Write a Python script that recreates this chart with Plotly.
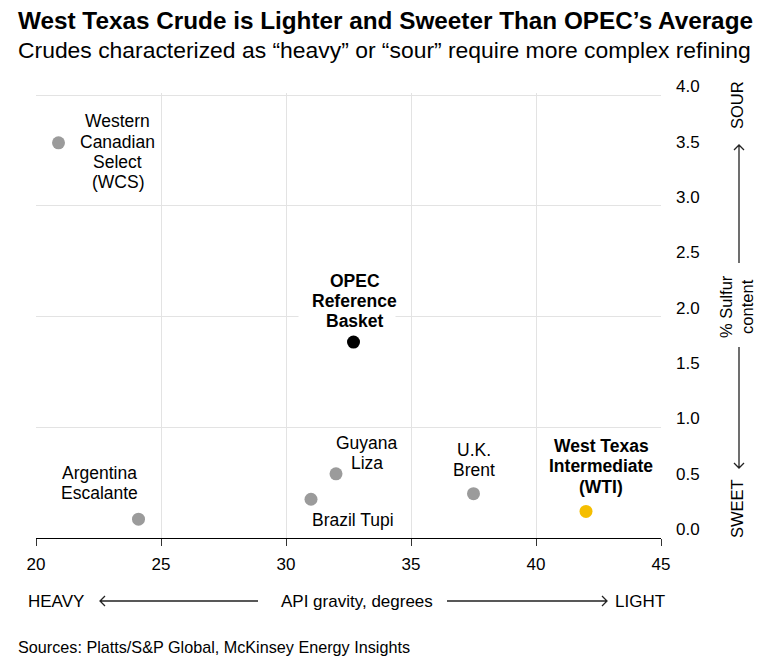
import plotly.graph_objects as go

# ---- data ----
names = ["Western<br>Canadian<br>Select<br>(WCS)", "OPEC<br>Reference<br>Basket", "Guyana<br>Liza",
         "Brazil Tupi", "U.K.<br>Brent", "West Texas<br>Intermediate<br>(WTI)", "Argentina<br>Escalante"]
api_gravity = [20.9, 32.7, 32.0, 31.0, 37.5, 42.0, 24.1]
sulfur_pct = [3.57, 1.77, 0.58, 0.35, 0.40, 0.24, 0.17]
colors = ["#9b9b9b", "#000000", "#9b9b9b", "#9b9b9b", "#9b9b9b", "#f5be00", "#9b9b9b"]
bold = [False, True, False, False, False, True, False]
label_shift = [(59, -9), (1, 41), (31, 21), (42, -21), (0, 34), (15, 45), (-39, 36)]
x_ticks = [20, 25, 30, 35, 40, 45]
x_grid = [20, 25, 30, 35, 40]
y_ticks = [0.0, 0.5, 1.0, 1.5, 2.0, 2.5, 3.0, 3.5, 4.0]
y_grid = [1, 2, 3, 4]

FONT = "Liberation Sans, Arial, sans-serif"
LINE = 20.3

# geometry: page has an 8px body margin, so figure is placed at (8,8)
OFF = 8
W, H = 758, 651
L, T = 28, 85
PW, PH = 625, 445
R, B = W - L - PW, H - T - PH


def px(xpage):
    return (xpage - OFF - L) / PW


def py(ypage):
    return (T + PH - (ypage - OFF)) / PH


fig = go.Figure()
fig.add_trace(go.Scatter(
    x=api_gravity, y=sulfur_pct, mode="markers",
    marker=dict(size=13, color=colors, line=dict(width=0)),
    hoverinfo="skip", showlegend=False,
))

annotations = []
shapes = []
for n, xv, yv, b, (dx, dy) in zip(names, api_gravity, sulfur_pct, bold, label_shift):
    lines = n.split("<br>")
    k = len(lines)
    if "OPEC" in n:
        shapes.append(dict(type="rect", xref="x", yref="y", xsizemode="pixel", ysizemode="pixel",
                           xanchor=xv, yanchor=yv, x0=-55, x1=42, y0=12, y1=70,
                           fillcolor="white", line=dict(width=0), layer="between"))
    for i, ln in enumerate(lines):
        annotations.append(dict(
            x=xv, y=yv, xref="x", yref="y", text=f"<b>{ln}</b>" if b else ln,
            showarrow=False, xshift=dx, yshift=dy + ((k - 1) / 2 - i) * LINE, align="center",
            font=dict(family=FONT, size=17.5, color="#000"),
        ))

# titles
annotations += [
    dict(x=px(16), y=py(20), xref="paper", yref="paper", xanchor="left", yanchor="middle",
         text="<b>West Texas Crude is Lighter and Sweeter Than OPEC’s Average</b>", showarrow=False,
         font=dict(family=FONT, size=24.3, color="#000")),
    dict(x=px(16), y=py(50), xref="paper", yref="paper", xanchor="left", yanchor="middle",
         text="Crudes characterized as “heavy” or “sour” require more complex refining", showarrow=False,
         font=dict(family=FONT, size=22.9, color="#000")),
    dict(x=px(16), y=py(647), xref="paper", yref="paper", xanchor="left", yanchor="middle",
         text="Sources: Platts/S&P Global, McKinsey Energy Insights", showarrow=False,
         font=dict(family=FONT, size=16.2, color="#000")),
    # x axis labels
    dict(x=px(26), y=py(601), xref="paper", yref="paper", xanchor="left", yanchor="middle",
         text="HEAVY", showarrow=False, font=dict(family=FONT, size=17, color="#000")),
    dict(x=px(357), y=py(601), xref="paper", yref="paper", xanchor="center", yanchor="middle",
         text="API gravity, degrees", showarrow=False, font=dict(family=FONT, size=17, color="#000")),
    dict(x=px(613), y=py(601), xref="paper", yref="paper", xanchor="left", yanchor="middle",
         text="LIGHT", showarrow=False, font=dict(family=FONT, size=17, color="#000")),
    # y axis labels
    dict(x=px(737), y=py(105), xref="paper", yref="paper", xanchor="center", yanchor="middle",
         text="SOUR", textangle=-90, showarrow=False, font=dict(family=FONT, size=16.5, color="#000")),
    dict(x=px(736), y=py(307), xref="paper", yref="paper", xanchor="center", yanchor="middle",
         text="% Sulfur<br>content", textangle=-90, showarrow=False,
         font=dict(family=FONT, size=16.5, color="#000")),
    dict(x=px(737), y=py(509), xref="paper", yref="paper", xanchor="center", yanchor="middle",
         text="SWEET", textangle=-90, showarrow=False, font=dict(family=FONT, size=16.5, color="#000")),
]


def arrow_path(x0, y0, x1, y1):
    # line from (x0,y0) to tip (x1,y1) with open chevron at tip, page pixel coords
    d = 5
    if y0 == y1:
        s = 1 if x1 > x0 else -1
        pts = (f"M{px(x0)},{py(y0)} L{px(x1)},{py(y1)} "
               f"M{px(x1 - s*d)},{py(y1 - d)} L{px(x1)},{py(y1)} L{px(x1 - s*d)},{py(y1 + d)}")
    else:
        s = 1 if y1 > y0 else -1
        pts = (f"M{px(x0)},{py(y0)} L{px(x1)},{py(y1)} "
               f"M{px(x1 - d)},{py(y1 - s*d)} L{px(x1)},{py(y1)} L{px(x1 + d)},{py(y1 - s*d)}")
    return dict(type="path", xref="paper", yref="paper", path=pts,
                line=dict(color="#222", width=1.3))


shapes += [
    arrow_path(258, 601, 100, 601),
    arrow_path(447, 601, 607, 601),
    arrow_path(739, 263, 739, 145),
    arrow_path(739, 347, 739, 468),
]

fig.update_layout(
    width=W, height=H,
    margin=dict(l=L, r=R, t=T, b=B, pad=0),
    paper_bgcolor="white", plot_bgcolor="white",
    font=dict(family=FONT, size=16, color="#000"),
    annotations=annotations, shapes=shapes,
    xaxis=dict(range=[20, 45], tickvals=x_grid, showgrid=True, gridcolor="#e3e3e3", gridwidth=1,
               showticklabels=False, ticks="", showline=False, zeroline=False),
    xaxis2=dict(range=[20, 45], overlaying="x", side="bottom", anchor="y", tickvals=x_ticks,
                showgrid=False, ticks="outside", ticklen=7, tickcolor="#333", tickwidth=1,
                showline=True, linecolor="#000", linewidth=1.2, zeroline=False,
                ticklabelstandoff=3,
                tickfont=dict(family=FONT, size=17, color="#000")),
    yaxis=dict(range=[0, 4.02], tickvals=y_grid, showgrid=True, gridcolor="#e3e3e3", gridwidth=1,
               showticklabels=False, ticks="", showline=False, zeroline=False),
    yaxis2=dict(range=[0, 4.02], overlaying="y", side="right", anchor="x", tickvals=y_ticks,
                ticktext=[f"{v:.1f}" for v in y_ticks], showgrid=False, ticks="", showline=False,
                zeroline=False, ticklabelstandoff=14, ticklabelshift=-9,
                tickfont=dict(family=FONT, size=17, color="#000")),
)
fig.add_trace(go.Scatter(x=[None], y=[None], xaxis="x2", yaxis="y2", showlegend=False, hoverinfo="skip"))

fig.write_html("out.html")
